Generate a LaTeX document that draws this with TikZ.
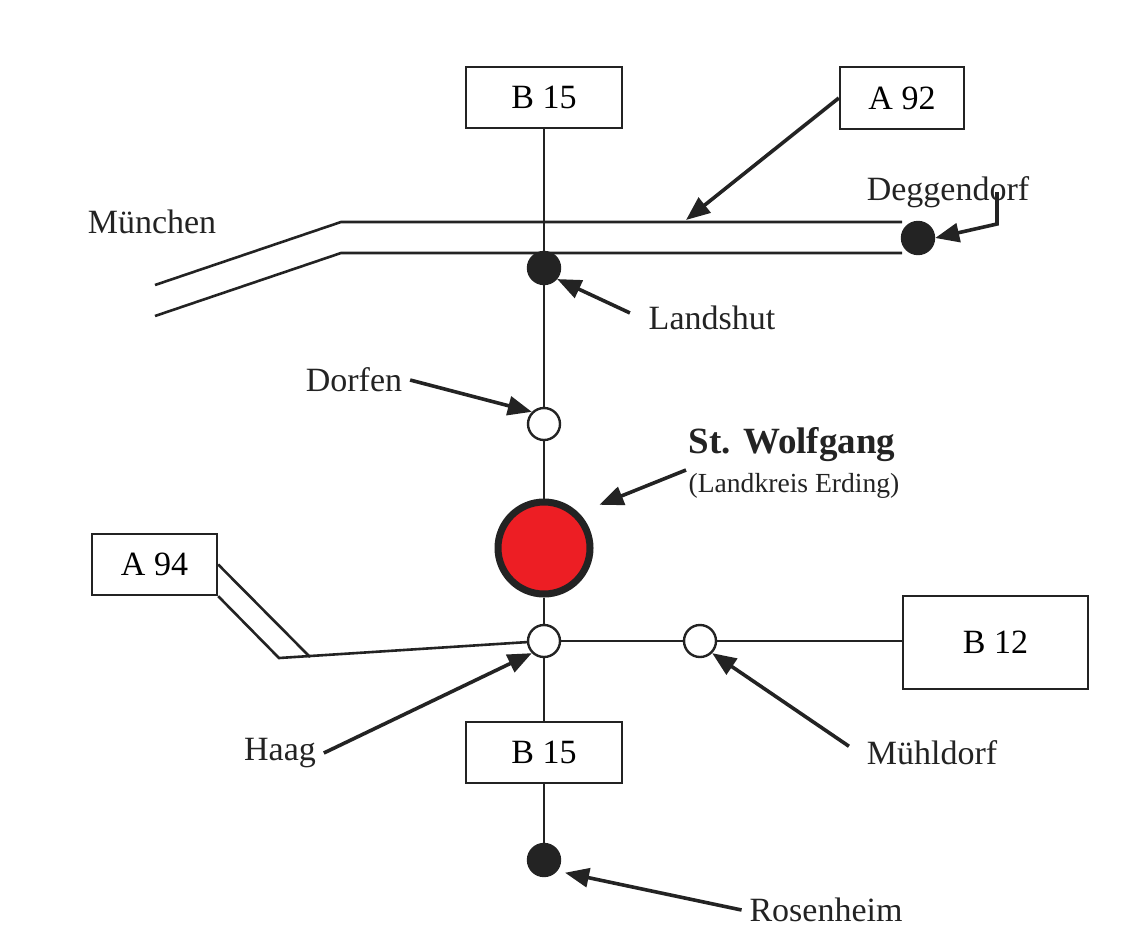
\documentclass[tikz,border=0pt]{standalone}
\usepackage{fontspec}
\setmainfont{Liberation Serif}
\usetikzlibrary{arrows.meta}

\definecolor{wolfred}{RGB}{237,30,36}
\definecolor{ink}{RGB}{35,35,35}

\begin{document}
\begin{tikzpicture}[x=0.5pt, y=-0.5pt, line width=1.3pt, draw=ink,
    sign/.style={draw, line width=1.2pt, fill=white, inner sep=0pt, font=\fontsize{17}{20}\selectfont},
    town/.style={circle, draw, line width=1.2pt, fill=white, minimum size=16pt, inner sep=0pt},
    city/.style={town, fill=ink},
    place/.style={text=ink, font=\fontsize{17}{20}\selectfont},
    pointer/.style={-{Triangle[length=12pt,width=9.5pt]}, line width=1.8pt}]

  \useasboundingbox (0,0) rectangle (1123,932);

  % Road signs
  \node[sign, minimum width=78pt, minimum height=30.5pt] (B15n) at (544,97.5) {B 15};
  \node[sign, minimum width=62pt, minimum height=31pt] (A92) at (902,98) {A 92};
  \node[sign, minimum width=62.5pt, minimum height=30.5pt] (A94) at (154.5,564.5) {A 94};
  \node[sign, minimum width=92.5pt, minimum height=46.5pt] (B12) at (995.5,642.5) {B 12};
  \node[sign, minimum width=78pt, minimum height=30.5pt] (B15s) at (544,752.5) {B 15};

  % Towns
  \node[city] (Landshut) at (544,268) {};
  \node[city] (Degg) at (918,238) {};
  \node[town] (Dorfen) at (544,424) {};
  \node[circle, draw=ink, line width=3.5pt, fill=wolfred, minimum size=46pt, inner sep=0pt] (Wolf) at (544,548) {};
  \node[town] (Haag) at (544,641) {};
  \node[town] (Muehl) at (700,641) {};
  \node[city] (Rosen) at (544,860) {};

  % Labels
  \node[place] (MuenL) at (152,222) {München};
  \node[place] (DeggL) at (948,192) {Deggendorf};
  \node[place] (LandL) at (712,318) {Landshut};
  \node[place] (DorfL) at (354,380) {Dorfen};
  \node[text=ink, font=\fontsize{18.5}{22}\selectfont\bfseries] (WolfL) at (792,445) {St. Wolfgang};
  \node[text=ink, font=\fontsize{13.8}{16}\selectfont] (LkL) at (794,486) {(Landkreis Erding)};
  \node[place] (HaagL) at (280,753) {Haag};
  \node[place] (MuehlL) at (932,753) {Mühldorf};
  \node[place] (RosL) at (826,910) {Rosenheim};

  % Motorway A 92
  \draw (155,285) -- (341,222) -- (902,222);
  \draw (155,316) -- (341,253) -- (902,253);

  % Main road B 15
  \draw (B15n) -- (Landshut) -- (Dorfen) -- (Wolf) -- (Haag) -- (B15s) -- (Rosen);

  % Road to B 12 and A 94
  \draw (Haag) -- (Muehl) -- (Muehl -| B12.west);
  \coordinate (a94a) at (279,658);
  \coordinate (a94b) at (310,657);
  \draw (A94.south east) -- (a94a) -- (Haag);
  \draw (A94.east) -- (a94b);

  % Pointers
  \coordinate (a92tip) at (686,220);
  \coordinate (dgk) at (997,224);
  \coordinate (wolfp) at (686,470);
  \draw[pointer] (A92.west) -- (a92tip);
  \draw[pointer] (DeggL -| dgk) -- (dgk) -- (Degg.east);
  \draw[pointer, shorten <=6pt] (LandL.west) -- (Landshut.-40);
  \draw[pointer] (DorfL.east) -- (Dorfen.north west);
  \draw[pointer, shorten >=11pt] (wolfp) -- (Wolf.north east);
  \draw[pointer] (HaagL.east) -- (Haag.south west);
  \draw[pointer, shorten <=6pt] (MuehlL.west) -- (Muehl.south east);
  \draw[pointer, shorten >=4pt] (RosL.west) -- (Rosen.-40);
\end{tikzpicture}
\end{document}
